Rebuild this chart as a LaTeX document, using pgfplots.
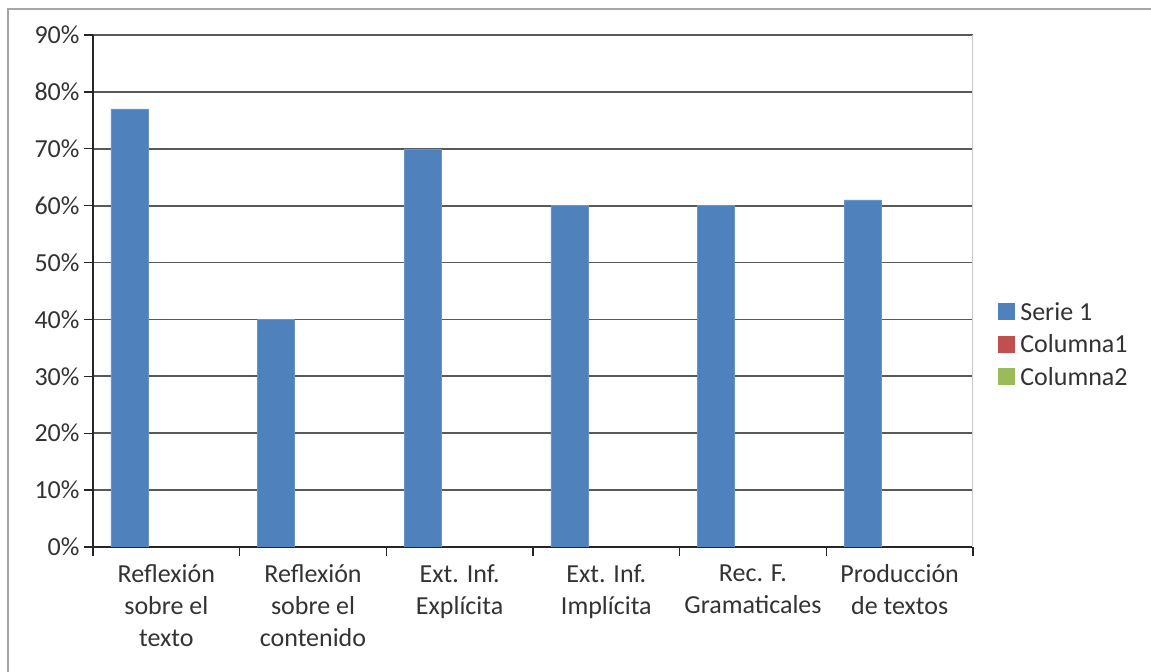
\documentclass[border=0pt]{standalone}
\usepackage{pgfplots}
\pgfplotsset{compat=1.18}
\usepackage{fontspec}
\setmainfont{Carlito}
\definecolor{s1}{HTML}{4F81BD}
\definecolor{s2}{HTML}{C0504D}
\definecolor{s3}{HTML}{9BBB59}
\begin{document}
\begin{tikzpicture}
\path[use as bounding box] (0,0) rectangle (1151bp,672bp);
\fill[white] (0,0) rectangle (1151bp,672bp);
\draw[line width=1.5bp, black!35] (8bp,0) -- (8bp,663bp) -- (1151bp,663bp);
\begin{axis}[
  at={(93bp,125bp)}, anchor=south west,
  scale only axis, width=880bp, height=512bp,
  xmin=-0.5, xmax=5.5, ymin=0, ymax=90,
  axis x line*=bottom, axis y line*=left,
  axis line style={line width=1.3bp, black!85},
  ytick={0,10,...,90},
  yticklabel={\pgfmathprintnumber{\tick}\%},
  /pgf/number format/assume math mode=true,
  xtick={0,...,5},
  xticklabels={{Reflexión\\sobre el\\texto},{Reflexión\\sobre el\\contenido},{Ext. Inf.\\Explícita},{Ext. Inf.\\Implícita},{Rec. F.\\Gramaticales},{Producción\\de textos}},
  minor xtick={-0.5,0.5,...,5.5},
  tick align=outside,
  major x tick style={draw=none},
  minor tick length=9bp,
  major tick length=9bp,
  tick style={line width=1.3bp, black!85},
  ymajorgrids,
  major grid style={line width=1.7bp, black!65},
  ticklabel style={font=\fontsize{26bp}{32bp}\selectfont, text=black!80},
  xticklabel style={align=center, yshift=-5bp},
  yticklabel style={xshift=-1bp},
  legend style={at={(1.028,0.395)}, anchor=west, draw=none, fill=none,
    font=\fontsize{26bp}{32bp}\selectfont, text=black!80,
    row sep=9bp, inner sep=0pt, nodes={inner ysep=2bp, inner xsep=5.5bp}},
  legend cell align=left,
  legend image code/.code={\fill[#1, draw=none] (0bp,-8bp) rectangle (17bp,9bp);},
]
\addplot[ybar, bar width=0.2523, bar shift=-0.2523, fill=s1, draw=s1!85!white] coordinates {(0,77) (1,40) (2,70) (3,60) (4,60) (5,61)};
\addlegendentry{Serie 1}
\addlegendimage{fill=s2}
\addlegendentry{Columna1}
\addlegendimage{fill=s3}
\addlegendentry{Columna2}
\draw[line width=1.3bp, black!20] (rel axis cs:1,0) -- (rel axis cs:1,1);
\end{axis}
\end{tikzpicture}
\end{document}
